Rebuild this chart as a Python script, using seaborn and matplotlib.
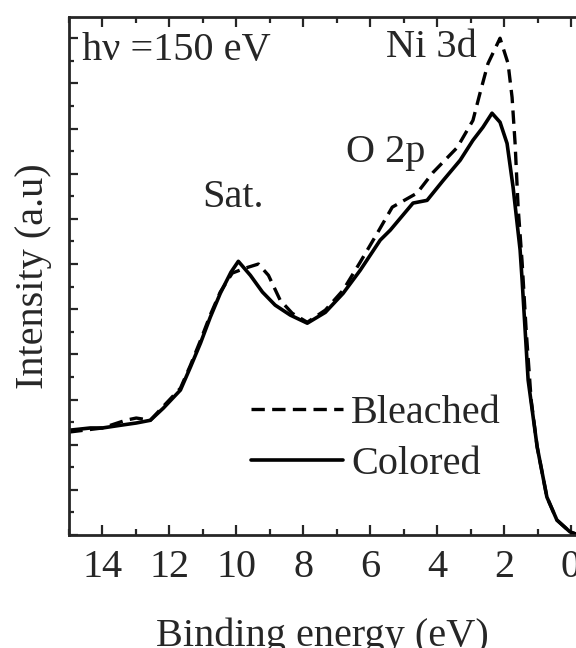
import matplotlib
matplotlib.use("Agg")
import matplotlib.pyplot as plt
from matplotlib.ticker import MultipleLocator
import seaborn as sns
import pandas as pd

# Colored (solid) spectrum: binding energy (eV), intensity (a.u.)
colored_be = [14.99, 14.36, 14.0, 13.46, 12.99, 12.57, 12.18, 11.67, 11.37, 11.07,
              10.78, 10.48, 10.16, 9.94, 9.58, 9.22, 8.84, 8.39, 7.88, 7.34,
              6.81, 6.30, 5.70, 5.40, 4.72, 4.30, 3.82, 3.31, 2.93, 2.63,
              2.36, 2.12, 1.91, 1.73, 1.52, 1.46, 1.28, 1.01, 0.72, 0.42,
              0.03, -0.15]
colored_int = [2.32, 2.37, 2.37, 2.43, 2.48, 2.54, 2.81, 3.21, 3.72, 4.25,
               4.82, 5.35, 5.82, 6.06, 5.75, 5.38, 5.09, 4.87, 4.69, 4.93,
               5.35, 5.86, 6.53, 6.75, 7.35, 7.41, 7.85, 8.30, 8.74, 9.03,
               9.34, 9.14, 8.67, 7.70, 6.31, 5.64, 3.43, 1.95, 0.84, 0.33,
               0.07, 0.02]

# Bleached (dashed) spectrum
bleached_be = [14.99, 14.0, 13.31, 12.99, 12.57, 12.18, 11.67, 11.37, 11.07, 10.78,
               10.48, 10.12, 9.73, 9.34, 9.04, 8.69, 8.33, 7.88, 7.34, 6.81,
               6.30, 5.79, 5.34, 4.60, 4.12, 3.40, 2.93, 2.72, 2.48, 2.12,
               1.88, 1.76, 1.67, 1.58, 1.46, 1.34, 1.19, 1.01, 0.72, 0.42,
               0.03, -0.15]
bleached_int = [2.28, 2.37, 2.54, 2.59, 2.54, 2.85, 3.25, 3.76, 4.31, 4.87,
                5.38, 5.80, 5.91, 6.00, 5.75, 5.20, 4.91, 4.71, 4.98, 5.42,
                6.04, 6.68, 7.26, 7.57, 8.03, 8.58, 9.18, 9.78, 10.44, 11.0,
                10.44, 9.69, 8.67, 7.26, 6.04, 4.54, 2.99, 1.95, 0.84, 0.33,
                0.07, 0.02]

x_ticks = [14, 12, 10, 8, 6, 4, 2, 0]

FS = 29

sns.set_style("ticks")
plt.rcParams['font.family'] = ['Liberation Serif', 'DejaVu Serif']

fig = plt.figure(figsize=(5.76, 6.48), dpi=100)
ax = fig.add_axes([69/576, 113/648, 1 - 69/576, 518/648])

df_b = pd.DataFrame({"be": bleached_be, "I": bleached_int})
df_c = pd.DataFrame({"be": colored_be, "I": colored_int})

sns.lineplot(data=df_b, x="be", y="I", ax=ax, color="black", lw=2.4,
             sort=False, label="Bleached")
sns.lineplot(data=df_c, x="be", y="I", ax=ax, color="black", lw=2.6,
             sort=False, label="Colored")
ax.lines[0].set_dashes((4, 2.2))

ax.set_xlim(15, -0.15)
ax.set_ylim(0, 11.47)
ax.set_xticks(x_ticks)
ax.xaxis.set_minor_locator(MultipleLocator(1))
ax.yaxis.set_major_locator(MultipleLocator(1))
ax.yaxis.set_minor_locator(MultipleLocator(0.5))
ax.tick_params(axis='x', which='both', direction='in', top=True, bottom=True,
               labelsize=FS, width=1.6, pad=10)
ax.tick_params(axis='x', which='major', length=7)
ax.tick_params(axis='x', which='minor', length=4)
ax.tick_params(axis='y', which='both', direction='in', left=True, right=False,
               labelleft=False, width=1.6)
ax.tick_params(axis='y', which='major', length=6.5)
ax.tick_params(axis='y', which='minor', length=3.5)
for s in ['left', 'bottom', 'top']:
    ax.spines[s].set_linewidth(2)
ax.spines['right'].set_visible(False)

ax.set_xlabel("Binding energy (eV)", fontsize=FS, labelpad=23)
ax.set_ylabel("Intensity (a.u)", fontsize=FS, labelpad=12)

ax.text(0.026, 0.935, "hν =150 eV", transform=ax.transAxes, fontsize=FS,
        ha='left', va='center')
ax.text(10.09, 7.48, "Sat.", fontsize=FS, ha='center', va='center')
ax.text(5.55, 8.47, "O 2p", fontsize=FS, ha='center', va='center')
ax.text(4.18, 10.8, "Ni 3d", fontsize=FS, ha='center', va='center')

leg = ax.legend(loc='center', bbox_to_anchor=(0.605, 0.185), frameon=False,
                fontsize=FS, handlelength=2.3, handletextpad=0.2,
                labelspacing=0.35, borderpad=0)

fig.savefig("out.png", dpi=100)
